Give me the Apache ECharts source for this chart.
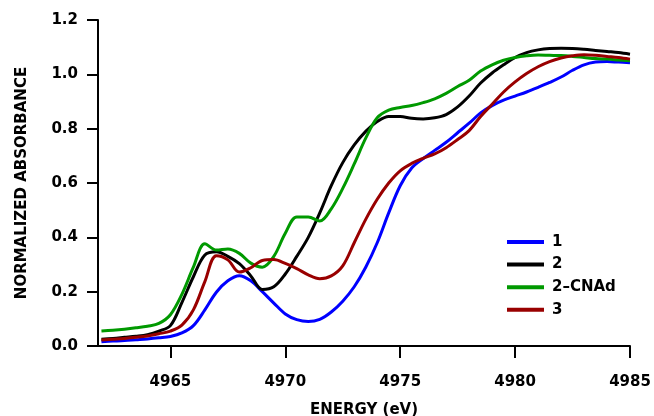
<!DOCTYPE html>
<html><head><meta charset="utf-8">
<script src="https://cdn.jsdelivr.net/npm/echarts@6/dist/echarts.min.js"></script>
<style>html,body{margin:0;padding:0;background:#fff}#c{width:654px;height:416px}</style>
</head><body><div id="c"></div>
<script>
const energy = [];
for (let e = 4962; e <= 4985.001; e += 0.5) energy.push(+e.toFixed(1));
const s1 = [0.016,0.018,0.020,0.023,0.026,0.030,0.035,0.048,0.075,0.133,0.198,0.240,0.259,0.240,0.200,0.158,0.118,0.097,0.090,0.098,0.125,0.165,0.218,0.290,0.380,0.49,0.59,0.655,0.69,0.72,0.75,0.785,0.82,0.858,0.885,0.905,0.92,0.935,0.952,0.97,0.99,1.015,1.035,1.045,1.047,1.045,1.043];
const s2 = [0.025,0.028,0.032,0.036,0.042,0.055,0.075,0.16,0.255,0.335,0.347,0.33,0.303,0.258,0.208,0.218,0.265,0.33,0.40,0.49,0.59,0.675,0.74,0.79,0.826,0.845,0.845,0.838,0.836,0.84,0.852,0.88,0.92,0.968,1.005,1.035,1.062,1.08,1.09,1.095,1.096,1.095,1.092,1.088,1.084,1.08,1.074];
const s2cn = [0.055,0.058,0.062,0.067,0.073,0.083,0.115,0.19,0.29,0.376,0.353,0.357,0.341,0.305,0.29,0.33,0.415,0.475,0.475,0.46,0.505,0.58,0.67,0.765,0.84,0.868,0.878,0.885,0.896,0.91,0.93,0.955,0.978,1.012,1.035,1.052,1.062,1.068,1.071,1.07,1.069,1.066,1.062,1.058,1.056,1.053,1.05];
const s3 = [0.022,0.025,0.028,0.032,0.037,0.045,0.055,0.077,0.133,0.237,0.332,0.317,0.272,0.288,0.315,0.318,0.304,0.285,0.262,0.248,0.258,0.295,0.38,0.466,0.54,0.6,0.645,0.672,0.691,0.707,0.73,0.76,0.793,0.845,0.89,0.935,0.972,1.003,1.028,1.047,1.06,1.068,1.072,1.07,1.066,1.062,1.056];
const names = ['1','2','2\u2013CNAd','3'];
const colors = ['#0000ff','#000000','#009900','#990000'];
const xTicks = [4965,4970,4975,4980,4985];
const FONT = 'DejaVu Sans';

const seriesData = [s1,s2,s2cn,s3];
const chart = echarts.init(document.getElementById('c'));
chart.setOption({
  animation:false,
  backgroundColor:'#fff',
  grid:{left:98,right:24,top:20,bottom:70,outerBoundsMode:'none',containLabel:false},
  legend:{
    left:502, top:228, orient:'vertical', icon:'rect', itemWidth:37, itemHeight:4, itemGap:4.6,
    data:names,
    textStyle:{fontFamily:FONT,fontWeight:'bold',fontSize:15,color:'#000',padding:[0,0,0,3],lineHeight:18}
  },
  xAxis:{
    type:'value', min:4961.85, max:4985, offset:2,
    name:'ENERGY (eV)', nameLocation:'middle', nameGap:55,
    nameTextStyle:{fontFamily:FONT,fontWeight:'bold',fontSize:15,color:'#000'},
    axisLine:{lineStyle:{color:'#000',width:2}},
    axisTick:{customValues:xTicks,length:12,inside:false,lineStyle:{color:'#000',width:2}},
    axisLabel:{customValues:xTicks,fontFamily:FONT,fontWeight:'bold',fontSize:15,color:'#000',margin:27,
      formatter:v=>String(v)},
    splitLine:{show:false}
  },
  yAxis:{
    type:'value', min:0, max:1.2, interval:0.2,
    name:'NORMALIZED ABSORBANCE', nameLocation:'middle', nameGap:68, nameRotate:90,
    nameTextStyle:{fontFamily:FONT,fontWeight:'bold',fontSize:15,color:'#000'},
    axisLine:{show:true,lineStyle:{color:'#000',width:2}},
    axisTick:{show:true,length:11,lineStyle:{color:'#000',width:2}},
    axisLabel:{fontFamily:FONT,fontWeight:'bold',fontSize:15,color:'#000',margin:20,
      formatter:v=>v.toFixed(1)},
    splitLine:{show:false}
  },
  series:seriesData.map((d,i)=>({
    name:names[i], type:'line', showSymbol:false, symbol:'none', smooth:0.35,
    data:energy.map((e,j)=>[e,d[j]]),
    lineStyle:{color:colors[i],width:3}, itemStyle:{color:colors[i]}
  }))
});
</script></body></html>
